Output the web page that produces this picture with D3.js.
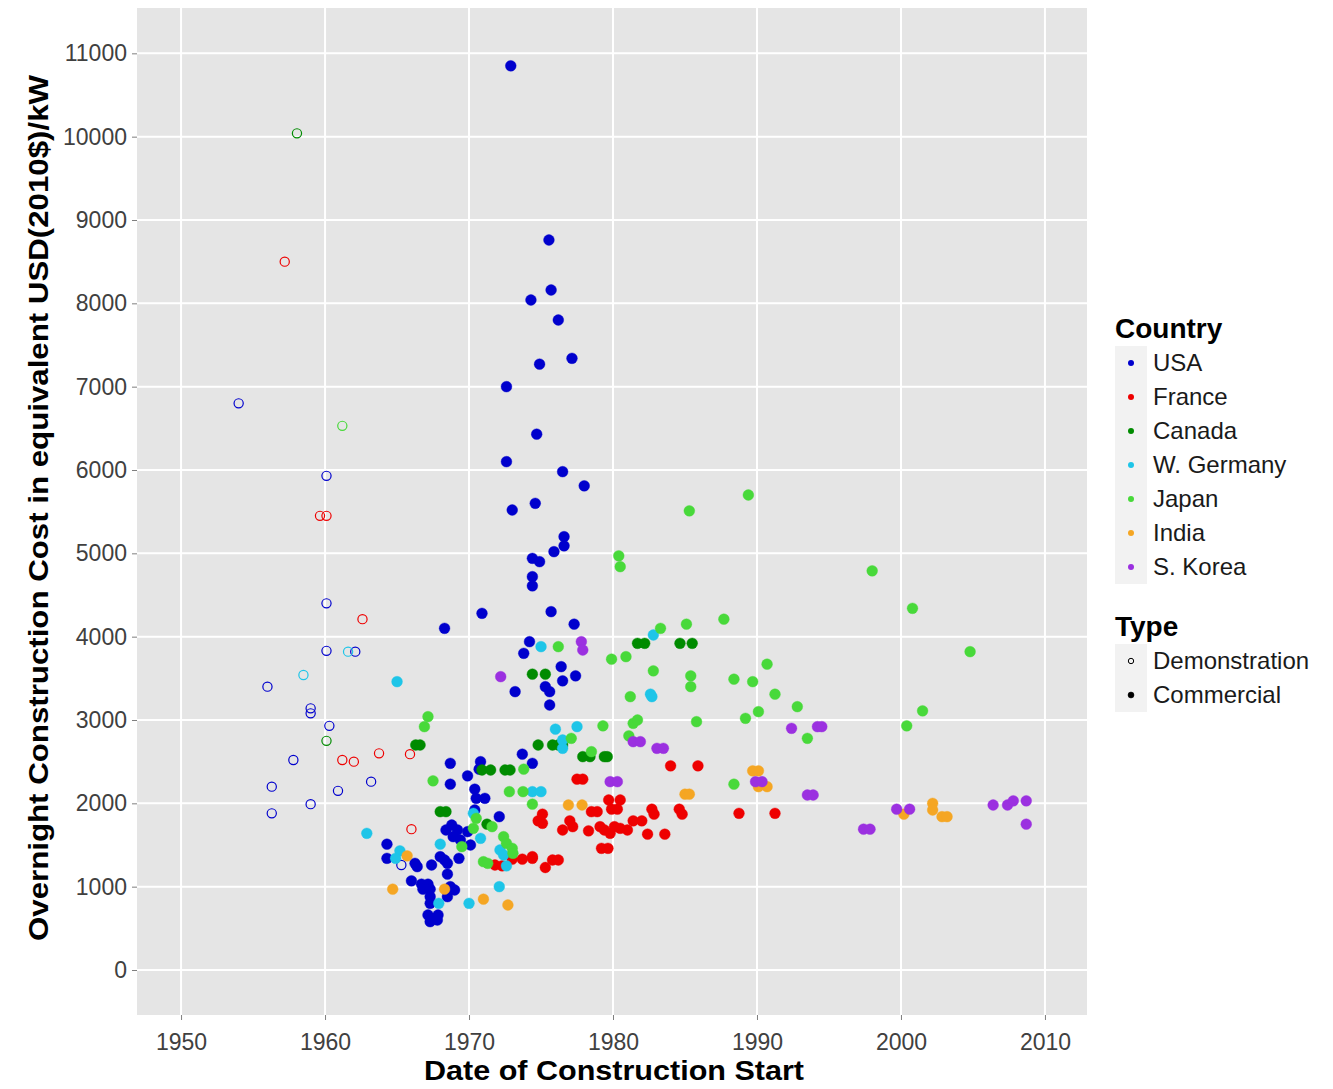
<html>
<meta charset="utf-8"></meta>
<script src="https://d3js.org/d3.v7.min.js" charset="utf-8"></script>
<script type="text/javascript">
var countries = ["USA","France","Canada","W. Germany","Japan","India","S. Korea"];
var colors = ["#0000cd","#ee0000","#008b00","#1ec5e8","#48d93a","#f5a623","#9b30e0"];
var types = ["Demonstration","Commercial"];
var xTicks = [1950,1960,1970,1980,1990,2000,2010];
var yTicks = [0,1000,2000,3000,4000,5000,6000,7000,8000,9000,10000,11000];

// [year, cost] pairs
var usaDemo = [[1954.0,6800],[1960.1,5930],[1960.1,4400],[1960.1,3830],[1962.1,3820],[1956.0,3400],[1959.0,3140],[1959.0,3080],[1960.3,2930],[1957.8,2520],[1963.2,2260],[1956.3,2200],[1960.9,2150],[1959.0,1990],[1956.3,1880],[1965.3,1260]];
var franceDemo = [[1957.2,8500],[1959.65,5450],[1960.1,5450],[1962.6,4210],[1963.75,2600],[1961.2,2520],[1962.0,2500],[1965.9,2590],[1966.0,1690]];
var canadaDemo = [[1958.05,10040],[1960.1,2750]];
var germanyDemo = [[1958.5,3540],[1961.6,3820]];
var japanDemo = [[1961.2,6530]];

var usaComm = [[1972.9,10850],[1975.55,8760],[1975.7,8160],[1974.3,8040],[1976.2,7800],[1977.15,7340],[1974.9,7270],[1972.6,7000],[1974.7,6430],[1972.6,6100],[1976.5,5980],[1978.0,5810],[1974.6,5600],[1973.0,5520],[1976.6,5200],[1976.6,5090],[1975.9,5020],[1974.4,4940],[1974.9,4900],[1974.4,4720],[1974.4,4610],[1970.9,4280],[1975.7,4300],[1968.3,4100],[1977.3,4150],[1974.2,3940],[1973.8,3800],[1976.4,3640],[1977.4,3530],[1976.5,3470],[1973.2,3340],[1975.3,3400],[1975.6,3340],[1975.6,3180],[1973.7,2590],[1974.4,2480],[1968.7,2480],[1970.8,2500],[1970.7,2410],[1969.9,2330],[1968.7,2230],[1970.4,2170],[1970.5,2060],[1971.1,2060],[1970.4,1920],[1972.1,1840],[1968.8,1740],[1968.4,1680],[1969.2,1680],[1968.9,1600],[1969.9,1660],[1969.4,1560],[1970.1,1500],[1964.3,1510],[1964.3,1340],[1966.25,1280],[1966.4,1240],[1967.4,1260],[1968.0,1360],[1968.3,1320],[1968.5,1280],[1969.3,1340],[1968.5,1150],[1966.0,1070],[1966.7,1030],[1967.15,1030],[1966.8,970],[1967.3,970],[1968.7,1000],[1969.0,960],[1968.5,880],[1967.3,880],[1967.3,800],[1967.15,660],[1967.85,660],[1967.3,580],[1967.8,600]];
var franceComm = [[1984.0,2450],[1985.9,2450],[1977.5,2290],[1977.9,2290],[1979.7,2040],[1980.5,2040],[1979.9,1930],[1980.3,1930],[1978.5,1900],[1978.9,1900],[1982.7,1930],[1982.85,1870],[1984.6,1930],[1984.8,1870],[1988.75,1880],[1991.25,1880],[1975.1,1870],[1974.8,1790],[1975.1,1760],[1977.0,1790],[1977.2,1720],[1976.5,1680],[1978.3,1670],[1979.1,1720],[1979.4,1680],[1979.8,1640],[1980.1,1720],[1980.5,1700],[1981.0,1680],[1981.4,1790],[1982.0,1790],[1982.4,1630],[1983.6,1630],[1979.2,1460],[1979.65,1460],[1974.4,1340],[1975.8,1320],[1976.2,1320],[1975.3,1230],[1971.8,1260],[1972.3,1250],[1973.0,1330],[1973.7,1330],[1974.4,1360]];
var canadaComm = [[1966.3,2700],[1966.6,2700],[1970.9,2400],[1971.5,2400],[1972.5,2400],[1972.85,2400],[1968.0,1900],[1968.4,1900],[1971.25,1750],[1974.4,3550],[1975.3,3550],[1974.8,2700],[1975.8,2700],[1976.2,2700],[1976.5,2700],[1977.9,2560],[1978.4,2560],[1979.4,2560],[1979.6,2560],[1981.7,3920],[1982.2,3920],[1984.65,3920],[1985.5,3920]];
var germanyComm = [[1962.9,1640],[1965.0,3460],[1965.2,1430],[1964.9,1340],[1968.0,1510],[1970.3,1880],[1970.8,1580],[1972.15,1440],[1972.4,1380],[1972.6,1250],[1972.1,1000],[1967.9,800],[1970.0,800],[1974.4,2140],[1975.0,2140],[1975.0,3880],[1976.0,2890],[1977.5,2920],[1976.5,2760],[1976.5,2660],[1982.6,3310],[1982.7,3280],[1982.8,4020]];
var japanComm = [[1967.15,3040],[1966.9,2920],[1967.5,2270],[1973.8,2410],[1972.8,2140],[1973.75,2140],[1974.4,1990],[1970.5,1820],[1971.6,1720],[1970.3,1700],[1972.4,1600],[1972.6,1520],[1973.0,1460],[1973.05,1400],[1969.5,1480],[1971.0,1300],[1971.3,1280],[1976.2,3880],[1977.1,2780],[1978.5,2620],[1979.3,2930],[1979.9,3730],[1980.9,3760],[1980.4,4970],[1980.5,4840],[1983.3,4100],[1985.1,4150],[1987.7,4210],[1982.8,3590],[1985.4,3530],[1985.4,3400],[1981.2,3280],[1981.4,2960],[1981.7,3000],[1981.1,2810],[1985.8,2980],[1985.3,5510],[1989.4,5700],[1988.4,3490],[1989.7,3460],[1990.7,3670],[1991.25,3310],[1992.8,3160],[1990.1,3100],[1989.2,3020],[1988.4,2230],[1993.5,2780],[1998.0,4790],[2000.8,4340],[2004.8,3820],[2001.5,3110],[2000.4,2930]];
var indiaComm = [[1965.7,1370],[1964.7,970],[1968.3,970],[1971.0,850],[1972.7,780],[1976.9,1980],[1977.85,1980],[1985.0,2110],[1985.3,2110],[1989.7,2390],[1990.1,2390],[1990.1,2200],[1990.7,2200],[2000.2,1870],[2002.2,2000],[2002.2,1920],[2002.85,1840],[2003.2,1840]];
var koreaComm = [[1972.2,3520],[1977.8,3940],[1977.9,3840],[1981.4,2740],[1981.9,2740],[1983.05,2660],[1983.5,2660],[1979.8,2260],[1980.3,2260],[1989.9,2260],[1990.35,2260],[1992.4,2900],[1994.2,2920],[1994.5,2920],[1993.5,2100],[1993.9,2100],[1997.4,1690],[1997.85,1690],[1999.7,1930],[2000.6,1930],[2006.4,1980],[2007.4,1980],[2007.8,2030],[2008.7,2030],[2008.7,1750]];

function buildRows(){
	var sets = [
		[usaDemo,0,0],[franceDemo,1,0],[canadaDemo,2,0],[germanyDemo,3,0],[japanDemo,4,0],
		[usaComm,0,1],[franceComm,1,1],[canadaComm,2,1],[germanyComm,3,1],[japanComm,4,1],[indiaComm,5,1],[koreaComm,6,1]
	];
	var rows = [];
	sets.forEach(function(s){
		s[0].forEach(function(p){
			rows.push({year:p[0],cost:p[1],country:countries[s[1]],type:types[s[2]]});
		});
	});
	return rows;
}

function load(){
	draw();
}

function draw(){
	var width = 1333, height = 1089;
	var left = 137, right = 1087, top = 8, bottom = 1015;
	var font = "Liberation Sans, Arial, sans-serif";
	var svg = d3.select("#idSvg001").attr("width",width).attr("height",height);
	svg.append("rect").attr("width",width).attr("height",height).attr("fill","#ffffff");

	var x = d3.scaleLinear().domain([1946.94,2012.92]).range([left,right]);
	var y = d3.scaleLinear().domain([-540,11544]).range([bottom,top]);
	var col = d3.scaleOrdinal().domain(countries).range(colors);

	svg.append("rect").attr("x",left).attr("y",top).attr("width",right-left).attr("height",bottom-top).attr("fill","#e5e5e5");

	var grid = svg.append("g");
	grid.selectAll(".gx").data(xTicks).enter().append("line")
		.attr("x1",function(d){return x(d);}).attr("x2",function(d){return x(d);})
		.attr("y1",top).attr("y2",bottom).attr("stroke","#ffffff").attr("stroke-width",2);
	grid.selectAll(".gy").data(yTicks).enter().append("line")
		.attr("y1",function(d){return y(d);}).attr("y2",function(d){return y(d);})
		.attr("x1",left).attr("x2",right).attr("stroke","#ffffff").attr("stroke-width",2);

	var gx = svg.append("g").attr("transform","translate(0,"+bottom+")")
		.call(d3.axisBottom(x).tickValues(xTicks).tickSize(5).tickPadding(14).tickFormat(d3.format("d")));
	var gy = svg.append("g").attr("transform","translate("+left+",0)")
		.call(d3.axisLeft(y).tickValues(yTicks).tickSize(5).tickPadding(5).tickFormat(d3.format("d")));
	[gx,gy].forEach(function(g){
		g.select(".domain").remove();
		g.attr("font-family",font).attr("font-size",23);
		g.selectAll("line").attr("stroke","#7f7f7f");
		g.selectAll("text").attr("fill","#404040");
	});

	svg.append("text").attr("x",614).attr("y",1080).attr("text-anchor","middle")
		.attr("font-family",font).attr("font-weight","bold").attr("font-size",28)
		.attr("textLength",380).attr("lengthAdjust","spacingAndGlyphs")
		.text("Date of Construction Start");
	svg.append("text").attr("transform","translate(48,508) rotate(-90)").attr("text-anchor","middle")
		.attr("font-family",font).attr("font-weight","bold").attr("font-size",28)
		.attr("textLength",866).attr("lengthAdjust","spacingAndGlyphs")
		.text("Overnight Construction Cost in equivalent USD(2010$)/kW");

	var rows = buildRows();
	var pts = svg.append("g");
	pts.selectAll("circle").data(rows).enter().append("circle")
		.attr("cx",function(d){return x(d.year);})
		.attr("cy",function(d){return y(d.cost);})
		.attr("r",function(d){return d.type=="Commercial" ? 5.4 : 4.6;})
		.attr("fill",function(d){return d.type=="Commercial" ? col(d.country) : "none";})
		.attr("stroke",function(d){return col(d.country);})
		.attr("stroke-width",function(d){return d.type=="Commercial" ? 0.4 : 1.2;});

	// legends
	var lg = svg.append("g").attr("font-family",font);
	lg.append("text").attr("x",1115).attr("y",338).attr("font-weight","bold").attr("font-size",28).text("Country");
	var rowH = 34, top1 = 346;
	countries.forEach(function(c,i){
		var cy = top1 + i*rowH + rowH/2;
		lg.append("rect").attr("x",1115).attr("y",top1+i*rowH).attr("width",32).attr("height",rowH).attr("fill","#f2f2f2");
		lg.append("circle").attr("cx",1131).attr("cy",cy).attr("r",3).attr("fill",col(c));
		lg.append("text").attr("x",1153).attr("y",cy+8).attr("font-size",24).attr("fill","#1a1a1a").text(c);
	});
	lg.append("text").attr("x",1115).attr("y",636).attr("font-weight","bold").attr("font-size",28).text("Type");
	var top2 = 644;
	types.forEach(function(t,i){
		var cy = top2 + i*rowH + rowH/2;
		lg.append("rect").attr("x",1115).attr("y",top2+i*rowH).attr("width",32).attr("height",rowH).attr("fill","#f2f2f2");
		lg.append("circle").attr("cx",1131).attr("cy",cy).attr("r",t=="Commercial" ? 3 : 2.7)
			.attr("fill",t=="Commercial" ? "#000" : "none").attr("stroke","#000").attr("stroke-width",t=="Commercial" ? 0.5 : 1);
		lg.append("text").attr("x",1153).attr("y",cy+8).attr("font-size",24).attr("fill","#1a1a1a").text(t);
	});
}
</script>
<body onload="load();" style="margin:0">
<svg id="idSvg001"></svg>
</body>
</html>
